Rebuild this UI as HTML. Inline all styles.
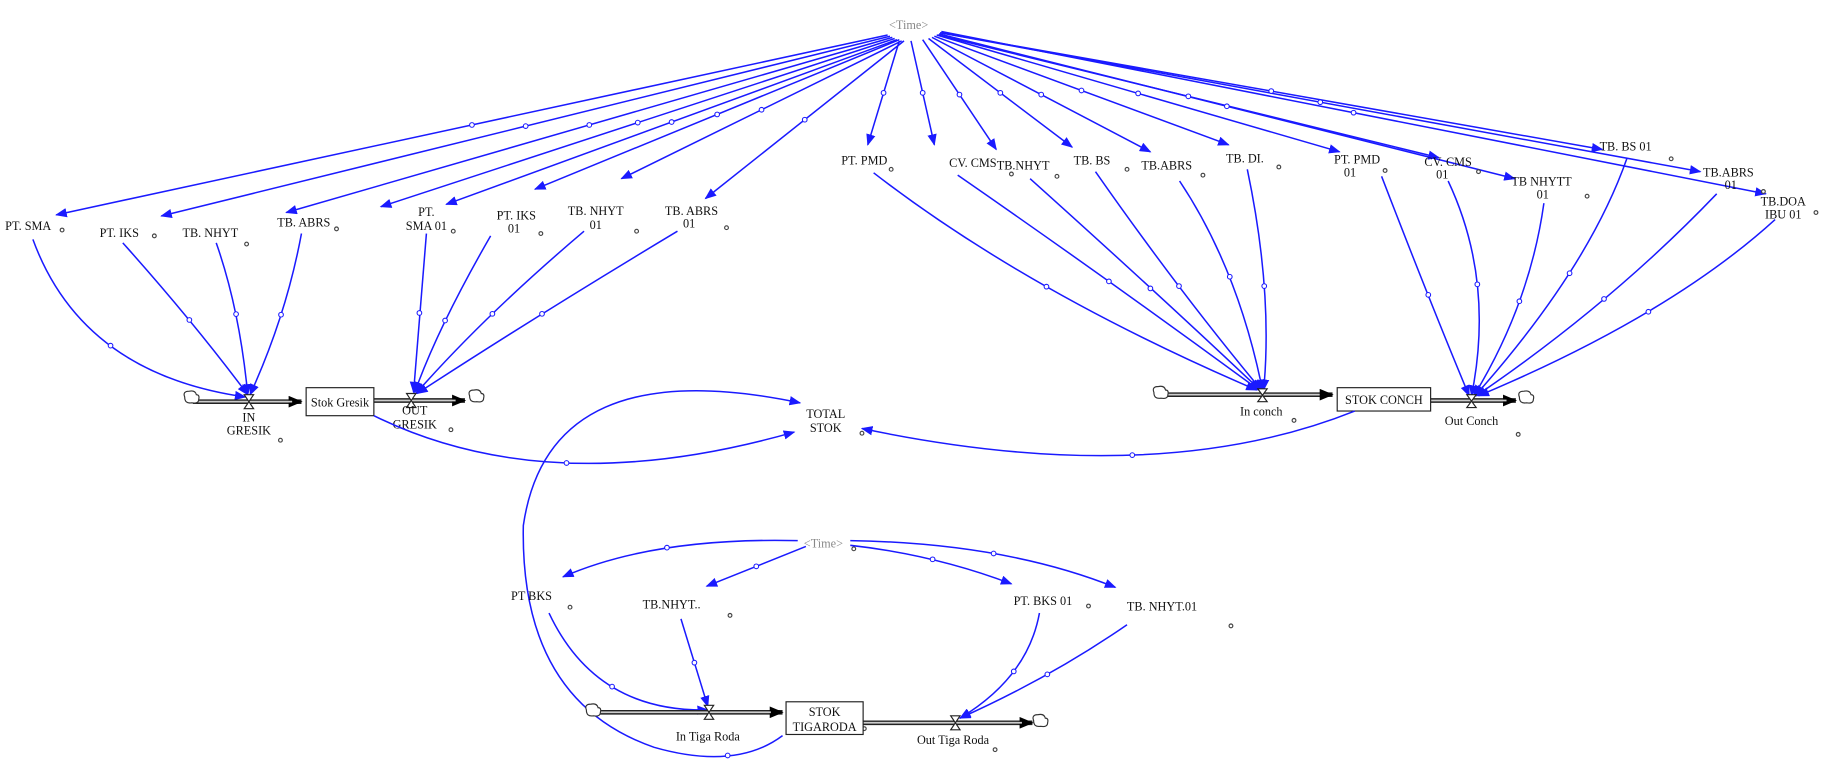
<!DOCTYPE html>
<html><head><meta charset="utf-8"><style>
html,body{margin:0;padding:0;background:#fff;}
svg{display:block;}
text{font-family:"Liberation Serif",serif;font-size:10.5px;fill:#111;}
.t{fill:#888;}
.c{fill:none;stroke:#1a1aff;stroke-width:1.3;}
.m{fill:#fff;stroke:#1a1aff;stroke-width:0.9;}
.g{fill:#fff;stroke:#444;stroke-width:1;}
.p{stroke:#222;stroke-width:4;fill:none;}
.pi{stroke:#ccc;stroke-width:1.5;fill:none;}
</style></head><body>
<svg width="1822" height="759" viewBox="0 0 1560 650" xmlns="http://www.w3.org/2000/svg">
<defs>
<marker id="a" markerWidth="10" markerHeight="8" refX="9" refY="4" orient="auto" markerUnits="userSpaceOnUse"><path d="M0,0 L10,4 L0,8 z" fill="#1a1aff"/></marker>
<marker id="b" markerWidth="12" markerHeight="10" refX="11" refY="5" orient="auto" markerUnits="userSpaceOnUse"><path d="M0,0 L12,5 L0,10 z" fill="#000"/></marker>
</defs>

<text x="778" y="25" class="t" text-anchor="middle">&lt;Time&gt;</text>
<g marker-end="url(#a)">
<path class="c" d="M760,30 L48,184"/>
<path class="c" d="M762,31 L138,185"/>
<path class="c" d="M764,32 L245,182"/>
<path class="c" d="M766,33 L326,177"/>
<path class="c" d="M768,34 L382,175"/>
<path class="c" d="M770,34 L458,162"/>
<path class="c" d="M772,35 L532,153"/>
<path class="c" d="M774,35 L604,170"/>
<path class="c" d="M770,35 L743,124"/>
<path class="c" d="M780,35 L800,124"/>
<path class="c" d="M790,34 L853,128"/>
<path class="c" d="M795,33 L918,126"/>
<path class="c" d="M798,32 L985,130"/>
<path class="c" d="M800,31 L1052,124"/>
<path class="c" d="M802,30 L1147,130"/>
<path class="c" d="M803,30 L1232,135"/>
<path class="c" d="M804,29 L1297,153"/>
<path class="c" d="M805,28 L1372,128"/>
<path class="c" d="M805,28 L1456,147"/>
<path class="c" d="M806,27 L1512,166"/>
</g>
<g>
<circle class="m" cx="404" cy="107" r="2"/><circle class="m" cx="450" cy="108" r="2"/><circle class="m" cx="504.5" cy="107" r="2"/><circle class="m" cx="546" cy="105" r="2"/>
<circle class="m" cx="575" cy="104.5" r="2"/><circle class="m" cx="614" cy="98" r="2"/><circle class="m" cx="652" cy="94" r="2"/><circle class="m" cx="689" cy="102.5" r="2"/>
<circle class="m" cx="756.5" cy="79.5" r="2"/><circle class="m" cx="790" cy="79.5" r="2"/><circle class="m" cx="821.5" cy="81" r="2"/><circle class="m" cx="856.5" cy="79.5" r="2"/>
<circle class="m" cx="891.5" cy="81" r="2"/><circle class="m" cx="926" cy="77.5" r="2"/><circle class="m" cx="974.5" cy="80" r="2"/><circle class="m" cx="1017.5" cy="82.5" r="2"/><circle class="m" cx="1050.5" cy="91" r="2"/><circle class="m" cx="1088.5" cy="78" r="2"/><circle class="m" cx="1130.5" cy="87.5" r="2"/><circle class="m" cx="1159" cy="96.5" r="2"/>
</g>

<!-- left labels -->
<text x="24" y="197" text-anchor="middle">PT. SMA</text>
<text x="102" y="203" text-anchor="middle">PT. IKS</text>
<text x="180" y="203" text-anchor="middle">TB. NHYT</text>
<text x="260" y="194" text-anchor="middle">TB. ABRS</text>
<text x="365" y="185" text-anchor="middle">PT.</text><text x="365" y="197" text-anchor="middle">SMA 01</text>
<text x="442" y="188" text-anchor="middle">PT. IKS</text><text x="440" y="199" text-anchor="middle">01</text>
<text x="510" y="184" text-anchor="middle">TB. NHYT</text><text x="510" y="196" text-anchor="middle">01</text>
<text x="592" y="184" text-anchor="middle">TB. ABRS</text><text x="590" y="195" text-anchor="middle">01</text>
<!-- mid/right labels -->
<text x="740" y="141" text-anchor="middle">PT. PMD</text>
<text x="833" y="143" text-anchor="middle">CV. CMS</text>
<text x="876" y="145" text-anchor="middle">TB.NHYT</text>
<text x="935" y="141" text-anchor="middle">TB. BS</text>
<text x="999" y="145" text-anchor="middle">TB.ABRS</text>
<text x="1066" y="139" text-anchor="middle">TB. DI.</text>
<text x="1162" y="140" text-anchor="middle">PT. PMD</text><text x="1156" y="151" text-anchor="middle">01</text>
<text x="1240" y="142" text-anchor="middle">CV. CMS</text><text x="1235" y="153" text-anchor="middle">01</text>
<text x="1320" y="159" text-anchor="middle">TB NHYTT</text><text x="1321" y="170" text-anchor="middle">01</text>
<text x="1392" y="129" text-anchor="middle">TB. BS 01</text>
<text x="1480" y="151" text-anchor="middle">TB.ABRS</text><text x="1482" y="162" text-anchor="middle">01</text>
<text x="1527" y="176" text-anchor="middle">TB.DOA</text><text x="1527" y="187" text-anchor="middle">IBU 01</text>

<!-- grey dots -->
<g>
<circle class="g" cx="53" cy="197" r="1.6"/><circle class="g" cx="132" cy="202" r="1.6"/><circle class="g" cx="211" cy="209" r="1.6"/><circle class="g" cx="288" cy="196" r="1.6"/>
<circle class="g" cx="388" cy="198" r="1.6"/><circle class="g" cx="463" cy="200" r="1.6"/><circle class="g" cx="545" cy="198" r="1.6"/><circle class="g" cx="622" cy="195" r="1.6"/>
<circle class="g" cx="763" cy="145" r="1.6"/><circle class="g" cx="866" cy="149" r="1.6"/><circle class="g" cx="905" cy="151" r="1.6"/><circle class="g" cx="965" cy="145" r="1.6"/><circle class="g" cx="1030" cy="150" r="1.6"/><circle class="g" cx="1095" cy="143" r="1.6"/>
<circle class="g" cx="1186" cy="146" r="1.6"/><circle class="g" cx="1266" cy="147" r="1.6"/><circle class="g" cx="1359" cy="168" r="1.6"/><circle class="g" cx="1431" cy="136" r="1.6"/><circle class="g" cx="1510" cy="164" r="1.6"/><circle class="g" cx="1555" cy="182" r="1.6"/>
<circle class="g" cx="240" cy="377" r="1.6"/><circle class="g" cx="386" cy="368" r="1.6"/><circle class="g" cx="738" cy="371" r="1.6"/><circle class="g" cx="1108" cy="360" r="1.6"/><circle class="g" cx="1300" cy="372" r="1.6"/>
<circle class="g" cx="731" cy="470" r="1.6"/><circle class="g" cx="488" cy="520" r="1.6"/><circle class="g" cx="625" cy="527" r="1.6"/><circle class="g" cx="932" cy="519" r="1.6"/><circle class="g" cx="1054" cy="536" r="1.6"/><circle class="g" cx="740" cy="624" r="1.6"/><circle class="g" cx="852" cy="642" r="1.6"/>
</g>

<!-- connectors to Gresik valves -->
<g marker-end="url(#a)">
<path class="c" d="M28,205 Q70,320 210,340"/>
<path class="c" d="M105,208 Q165,275 212,338"/>
<path class="c" d="M185,208 Q205,265 212,338"/>
<path class="c" d="M258,200 Q245,270 214,338"/>
<path class="c" d="M365,200 L354,336"/>
<path class="c" d="M420,202 Q375,280 355,336"/>
<path class="c" d="M500,198 Q415,270 356,337"/>
<path class="c" d="M580,198 Q460,270 357,337"/>
</g>
<g><circle class="m" cx="94.5" cy="296" r="2"/><circle class="m" cx="162" cy="274" r="2"/><circle class="m" cx="202" cy="269" r="2"/><circle class="m" cx="240.5" cy="269.5" r="2"/>
<circle class="m" cx="359" cy="268" r="2"/><circle class="m" cx="381" cy="274.5" r="2"/><circle class="m" cx="421.5" cy="268.75" r="2"/><circle class="m" cx="464" cy="268.75" r="2"/></g>

<!-- connectors to conch valves -->
<g marker-end="url(#a)">
<path class="c" d="M748,148 Q880,250 1076,334"/>
<path class="c" d="M820,150 Q950,240 1078,334"/>
<path class="c" d="M882,153 Q990,250 1079,334"/>
<path class="c" d="M938,147 Q1010,250 1080,334"/>
<path class="c" d="M1010,155 Q1060,230 1081,334"/>
<path class="c" d="M1068,145 Q1090,250 1082,334"/>
<path class="c" d="M1183,151 Q1225,260 1258,339"/>
<path class="c" d="M1240,155 Q1280,240 1260,339"/>
<path class="c" d="M1322,174 Q1310,260 1262,339"/>
<path class="c" d="M1393,136 Q1360,230 1263,339"/>
<path class="c" d="M1470,166 Q1380,260 1264,339"/>
<path class="c" d="M1520,188 Q1430,270 1266,339"/>
</g>
<g><circle class="m" cx="896" cy="245.5" r="2"/><circle class="m" cx="949.5" cy="241" r="2"/><circle class="m" cx="985" cy="247" r="2"/><circle class="m" cx="1009.5" cy="245" r="2"/><circle class="m" cx="1053" cy="237" r="2"/><circle class="m" cx="1082.5" cy="245" r="2"/>
<circle class="m" cx="1223" cy="252.5" r="2"/><circle class="m" cx="1265" cy="243.5" r="2"/><circle class="m" cx="1301" cy="258" r="2"/><circle class="m" cx="1344" cy="234" r="2"/><circle class="m" cx="1373.5" cy="256" r="2"/><circle class="m" cx="1411.5" cy="267" r="2"/></g>

<!-- Gresik flow -->
<path class="p" d="M165,344 L258,344" marker-end="url(#b)"/><path class="pi" d="M165,344 L250,344"/>
<path class="p" d="M320,343 L398,343" marker-end="url(#b)"/><path class="pi" d="M320,343 L390,343"/>
<path d="M158,340 q-2,-5 4,-5 q5,-1 6,3 q3,0 2,4 q0,4 -6,3 q-6,1 -6,-5z" fill="#fff" stroke="#333"/>
<path d="M402,339 q-2,-5 4,-5 q5,-1 6,3 q3,0 2,4 q0,4 -6,3 q-6,1 -6,-5z" fill="#fff" stroke="#333"/>
<path d="M209,338 L217,338 L209,350 L217,350 z" fill="#fff" stroke="#222"/>
<path d="M348,337 L356,337 L348,349 L356,349 z" fill="#fff" stroke="#222"/>
<rect x="262" y="332" width="58" height="24" fill="#fff" stroke="#222"/>
<text x="291" y="348" text-anchor="middle">Stok Gresik</text>
<text x="213" y="361" text-anchor="middle">IN</text><text x="213" y="372" text-anchor="middle">GRESIK</text>
<text x="355" y="355" text-anchor="middle">OUT</text><text x="355" y="367" text-anchor="middle">GRESIK</text>

<!-- Conch flow -->
<path class="p" d="M998,338 L1141,338" marker-end="url(#b)"/><path class="pi" d="M998,338 L1130,338"/>
<path class="p" d="M1225,343 L1298,343" marker-end="url(#b)"/><path class="pi" d="M1225,343 L1290,343"/>
<path d="M988,336 q-2,-5 4,-5 q5,-1 6,3 q3,0 2,4 q0,4 -6,3 q-6,1 -6,-5z" fill="#fff" stroke="#333"/>
<path d="M1301,340 q-2,-5 4,-5 q5,-1 6,3 q3,0 2,4 q0,4 -6,3 q-6,1 -6,-5z" fill="#fff" stroke="#333"/>
<path d="M1077,333 L1085,333 L1077,344 L1085,344 z" fill="#fff" stroke="#222"/>
<path d="M1256,338 L1264,338 L1256,349 L1264,349 z" fill="#fff" stroke="#222"/>
<rect x="1145" y="332" width="80" height="20" fill="#fff" stroke="#222"/>
<text x="1185" y="346" text-anchor="middle">STOK CONCH</text>
<text x="1080" y="356" text-anchor="middle">In conch</text>
<text x="1260" y="364" text-anchor="middle">Out Conch</text>

<text x="707" y="358" text-anchor="middle">TOTAL</text><text x="707" y="370" text-anchor="middle">STOK</text>
<g marker-end="url(#a)">
<path class="c" d="M320,356 Q470,430 680,370"/>
<path class="c" d="M1160,352 Q990,420 738,367"/>
<path class="c" d="M670,630 Q630,660 560,640 Q445,600 448,450 Q470,300 685,345"/>
</g>
<circle class="m" cx="485" cy="396.5" r="2"/><circle class="m" cx="969.5" cy="389.75" r="2"/><circle class="m" cx="623" cy="647" r="2"/>

<!-- Tiga Roda -->
<text x="705" y="469" class="t" text-anchor="middle">&lt;Time&gt;</text>
<g marker-end="url(#a)">
<path class="c" d="M683,463 Q560,460 482,494"/>
<path class="c" d="M690,468 L605,502"/>
<path class="c" d="M728,467 Q800,475 866,500"/>
<path class="c" d="M728,463 Q860,465 955,503"/>
<path class="c" d="M470,525 Q510,610 606,608"/>
<path class="c" d="M583,530 L606,605"/>
<path class="c" d="M890,525 Q880,580 822,615"/>
<path class="c" d="M965,535 Q900,580 822,615"/>
</g>
<g><circle class="m" cx="571" cy="469" r="2"/><circle class="m" cx="647.5" cy="485" r="2"/><circle class="m" cx="798.5" cy="479" r="2"/><circle class="m" cx="850.75" cy="474" r="2"/>
<circle class="m" cx="524" cy="588" r="2"/><circle class="m" cx="594.5" cy="567.5" r="2"/><circle class="m" cx="868" cy="575" r="2"/><circle class="m" cx="896.75" cy="577.5" r="2"/></g>
<text x="455" y="514" text-anchor="middle">PT BKS</text>
<text x="575" y="521" text-anchor="middle">TB.NHYT..</text>
<text x="893" y="518" text-anchor="middle">PT. BKS 01</text>
<text x="995" y="523" text-anchor="middle">TB. NHYT.01</text>
<path class="p" d="M512,610 L670,610" marker-end="url(#b)"/><path class="pi" d="M512,610 L660,610"/>
<path class="p" d="M739,619 L884,619" marker-end="url(#b)"/><path class="pi" d="M739,619 L875,619"/>
<path d="M502,608 q-2,-5 4,-5 q5,-1 6,3 q3,0 2,4 q0,4 -6,3 q-6,1 -6,-5z" fill="#fff" stroke="#333"/>
<path d="M885,617 q-2,-5 4,-5 q5,-1 6,3 q3,0 2,4 q0,4 -6,3 q-6,1 -6,-5z" fill="#fff" stroke="#333"/>
<path d="M603,604 L611,604 L603,616 L611,616 z" fill="#fff" stroke="#222"/>
<path d="M814,613 L822,613 L814,625 L822,625 z" fill="#fff" stroke="#222"/>
<rect x="673" y="601" width="66" height="28" fill="#fff" stroke="#222"/>
<text x="706" y="613" text-anchor="middle">STOK</text><text x="706" y="626" text-anchor="middle">TIGARODA</text>
<text x="606" y="634" text-anchor="middle">In Tiga Roda</text>
<text x="816" y="637" text-anchor="middle">Out Tiga Roda</text>
</svg>
</body></html>
